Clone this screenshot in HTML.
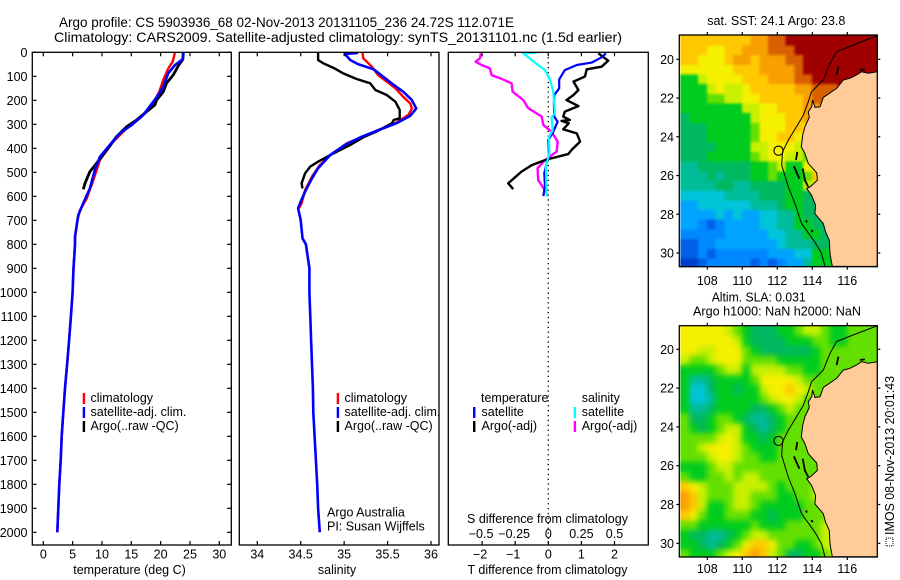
<!DOCTYPE html>
<html>
<head>
<meta charset="utf-8">
<title>Argo profile</title>
<style>
html,body{margin:0;padding:0;background:#fff;}
#chart{display:block;width:900px;height:580px;font-family:"Liberation Sans",sans-serif;font-size:12px;fill:#000;}
text{fill:#000;}
.frame{fill:none;stroke:#000;stroke-width:1.3;}
.tick{stroke:#000;stroke-width:1.2;}
</style>
</head>
<body>
<svg id="chart" xmlns="http://www.w3.org/2000/svg" width="900" height="580" viewBox="0 0 900 580">
  <defs>
    <clipPath id="clip-sst"><rect x="680.3" y="35" width="197" height="231.7"/></clipPath>
    <clipPath id="clip-sla"><rect x="680.3" y="325.7" width="197" height="231.3"/></clipPath>
    <filter id="soft-sst" filterUnits="userSpaceOnUse" x="660" y="0" width="240" height="290" color-interpolation-filters="sRGB">
      <feGaussianBlur in="SourceGraphic" stdDeviation="1.3" result="b"/>
      <feMerge><feMergeNode in="SourceGraphic"/><feMergeNode in="b"/></feMerge>
    </filter>
    <filter id="soft-sla" filterUnits="userSpaceOnUse" x="660" y="300" width="240" height="280" color-interpolation-filters="sRGB">
      <feGaussianBlur in="SourceGraphic" stdDeviation="3" result="b"/>
      <feMerge><feMergeNode in="SourceGraphic"/><feMergeNode in="b"/></feMerge>
    </filter>
  </defs>
  <rect x="0" y="0" width="900" height="580" fill="#fff"/>
  <text x="59" y="27" font-size="14" textLength="455" lengthAdjust="spacingAndGlyphs">Argo profile: CS 5903936_68 02-Nov-2013 20131105_236 24.72S 112.071E</text>
  <text x="54" y="42" font-size="14" textLength="568" lengthAdjust="spacingAndGlyphs">Climatology: CARS2009. Satellite-adjusted climatology: synTS_20131101.nc (1.5d earlier)</text>

  <g id="temp-panel"></g>
  <g id="sal-panel"></g>
  <g id="diff-panel"></g>
  <g id="sst-map"></g>
  <g id="sla-map"></g>

  <text x="129.5" y="574" font-size="12.5" text-anchor="middle">temperature (deg C)</text>
  <text x="337" y="574" font-size="12.5" text-anchor="middle">salinity</text>
  <text x="547.5" y="574" font-size="12.5" text-anchor="middle">T difference from climatology</text>
  <text x="547.5" y="523" font-size="12.5" text-anchor="middle">S difference from climatology</text>

  <g font-size="12.5">
    <rect x="82.7" y="393" width="2.4" height="11" fill="#ff0000"/>
    <rect x="82.7" y="407" width="2.4" height="11" fill="#0000ff"/>
    <rect x="82.7" y="421" width="2.4" height="11" fill="#000"/>
    <text x="90.5" y="402">climatology</text>
    <text x="90.5" y="416">satellite-adj. clim.</text>
    <text x="90.5" y="430">Argo(..raw -QC)</text>
  </g>
  <g font-size="12.5">
    <rect x="336.7" y="393" width="2.4" height="11" fill="#ff0000"/>
    <rect x="336.7" y="407" width="2.4" height="11" fill="#0000ff"/>
    <rect x="336.7" y="421" width="2.4" height="11" fill="#000"/>
    <text x="344.5" y="402">climatology</text>
    <text x="344.5" y="416">satellite-adj. clim.</text>
    <text x="344.5" y="430">Argo(..raw -QC)</text>
    <text x="327" y="516.7">Argo Australia</text>
    <text x="327" y="530.7">PI: Susan Wijffels</text>
  </g>
  <g font-size="12.5">
    <text x="481" y="402">temperature</text>
    <rect x="473" y="407" width="2.4" height="11" fill="#0000ff"/>
    <rect x="473" y="421" width="2.4" height="11" fill="#000"/>
    <text x="481.5" y="416">satellite</text>
    <text x="481.5" y="430">Argo(-adj)</text>
    <text x="581.7" y="402">salinity</text>
    <rect x="573.7" y="407" width="2.4" height="11" fill="#00ffff"/>
    <rect x="573.7" y="421" width="2.4" height="11" fill="#ff00ff"/>
    <text x="581.7" y="416">satellite</text>
    <text x="581.7" y="430">Argo(-adj)</text>
  </g>

  <text x="707.3" y="25" font-size="12.5" textLength="138" lengthAdjust="spacingAndGlyphs">sat. SST: 24.1 Argo: 23.8</text>
  <text x="711.7" y="301.7" font-size="12.5" textLength="94" lengthAdjust="spacingAndGlyphs">Altim. SLA: 0.031</text>
  <text x="693" y="315.7" font-size="12.5" textLength="168" lengthAdjust="spacingAndGlyphs">Argo h1000: NaN h2000: NaN</text>

  <g>
    <rect x="886" y="538" width="7" height="8" fill="none" stroke="#000" stroke-width="1" stroke-dasharray="1 1"/>
    <text transform="translate(894,535) rotate(-90)" font-size="12.5" textLength="159" lengthAdjust="spacingAndGlyphs">IMOS 08-Nov-2013 20:01:43</text>
  </g>
</svg>
<script>
/* ---- tick labels ---- */
const depthTicks = [0,100,200,300,400,500,600,700,800,900,1000,1100,1200,1300,1400,1500,1600,1700,1800,1900,2000];
const tempTicks = [0,5,10,15,20,25,30];
const salTicks = [34,34.5,35,35.5,36];
const salTickLabels = ['34','34.5','35','35.5','36'];
const tDiffTicks = [-2,-1,0,1,2];
const tDiffLabels = ['\u22122','\u22121','0','1','2'];
const sDiffTicks = [-0.5,-0.25,0,0.25,0.5];
const sDiffLabels = ['\u22120.5','\u22120.25','0','0.25','0.5'];
const lonTicks = [108,110,112,114,116];
const latTicks = [20,22,24,26,28,30];

/* ---- temperature profiles (deg C) with depths (m) ---- */
const deepDepths = [800,900,1000,1100,1200,1300,1400,1500,1600,1700,1800,1900,2000];
const climTempDepth = [0,39,67,115,164,198,233,275,317,372,448,533,609,658,700,776];
const climTemp = [22.44,22.05,21.3,20.45,19.77,19.03,18.18,16.48,14.2,11.93,9.66,8.52,7.39,6.25,5.8,5.4];
const satTempDepth = [0,29,53,87,143,178,206,261,303,337,386,435,490,567,629,678,768];
const satTemp = [23.86,23.75,22.44,21.3,20.45,19.6,18.75,17.05,15.06,13.07,11.36,9.66,8.8,7.95,6.8,5.97,5.4];
const deepTemp = [5.4,5.15,5.0,4.7,4.4,4.05,3.7,3.41,3.13,2.96,2.73,2.56,2.39];
const argoTempDepth = [0,29,57,94,129,164,199,219,247,282,310,351,407,462,497,546,571];
const argoTemp = [23.86,23.8,23.0,22.16,21.0,20.45,19.3,19.03,17.6,15.9,14.2,12.5,10.8,9.09,7.95,7.1,6.82];

/* ---- salinity profiles ---- */
const climSalDepth = [0,25,60,95,122,150,185,213,234,261,293,327,352,379,428,470,518,574,629,650];
const climSal = [35.21,35.22,35.32,35.39,35.49,35.59,35.68,35.76,35.78,35.74,35.6,35.37,35.22,35.03,34.84,34.72,34.63,34.55,34.51,34.48];
const satSalDepth = [3,7,32,49,71,108,136,164,199,234,265,296,328,352,386,428,483,525,581,622,650,699,775];
const satSal = [35.16,35.01,35.07,35.16,35.34,35.47,35.57,35.68,35.78,35.83,35.76,35.6,35.37,35.2,35.01,34.84,34.7,34.63,34.55,34.5,34.47,34.5,34.52];
const deepSal = [34.56,34.6,34.6,34.61,34.62,34.63,34.64,34.645,34.66,34.675,34.69,34.7,34.72];
const argoSalDepth = [0,32,46,67,88,111,129,157,178,206,240,275,282,296,331,354,386,428,456,476,504,546,567];
const argoSal = [34.7,34.7,34.76,34.89,34.99,35.14,35.3,35.36,35.49,35.59,35.64,35.64,35.57,35.55,35.37,35.22,35.07,34.84,34.7,34.61,34.55,34.51,34.52];

/* ---- differences from climatology ---- */
const satTDiffDepth = [4,21,43,53,74,113,150,178,213,268,289,331,365,428,463,504,560,599];
const satTDiff = [1.74,1.61,1.31,0.86,0.5,0.33,0.33,0.18,0.17,0.18,0.28,0.15,0,0.02,-0.05,-0.12,-0.1,-0.15];
const argoTDiffDepth = [4,35,60,71,101,122,157,178,199,224,247,268,282,286,296,321,338,372,407,424,438,449,470,497,546,570];
const argoTDiff = [1.51,1.81,1.61,1.16,1.11,0.76,0.91,0.76,0.55,0.91,0.5,0.45,0.65,0.4,0.62,0.45,0.86,0.96,0.7,0.6,0.2,-0.1,-0.5,-0.81,-1.21,-1.06];
const argoSDiffDepth = [4,25,39,53,67,95,108,129,164,199,233,268,303,331,372,414,449,483,532,571];
const argoSDiff = [-0.509,-0.516,-0.549,-0.504,-0.441,-0.428,-0.365,-0.277,-0.27,-0.189,-0.151,-0.05,-0.038,0.025,0.071,0.063,-0.025,-0.081,-0.076,-0.03];
const satSDiffDepth = [2,4,43,74,115,164,254,271,324,352,421,477,601];
const satSDiff = [-0.09,-0.189,-0.101,-0.025,0.013,0.038,0.05,0.025,0.033,0.005,0.008,-0.018,-0.013];

/* ---- map fields: colour-scale level per half-degree cell, north to south ---- */
const sstField = [
[11,11,11,11,11,11,11,11,12,12,13,13,14,14,14,14,14,14,14,14,14,14,14],
[11,11,11,10,10,11,11,12,12,12,13,13,13,14,14,14,14,14,14,14,14,14,14],
[11,11,10,10,10,11,12,12,11,12,12,12,13,13,14,14,14,14,14,14,14,14,14],
[10,10,10,10,10,10,11,11,11,12,12,12,12,13,14,14,14,14,14,14,14,14,14],
[7,7,9,10,10,10,10,11,11,11,12,12,12,13,13,14,14,14,14,14,14,14,14],
[7,7,7,9,10,9,9,10,11,11,11,11,11,12,12,13,13,13,14,14,14,14,14],
[7,7,7,8,8,9,9,10,10,11,11,11,11,11,12,13,13,13,14],
[7,7,7,7,7,7,7,9,9,10,10,11,11,11,12,12,13],
[6,7,7,7,7,7,7,7,9,10,10,10,11,11,12,12,12],
[6,6,6,7,7,7,7,7,8,10,10,10,11,11,10,10,10],
[6,6,6,7,7,7,7,7,8,10,10,11,11,10,10,10,10],
[6,6,6,6,7,7,7,7,9,9,10,10,10,9,8,10,10],
[6,6,6,7,7,7,7,7,8,9,10,10,9,9,8,10,10],
[5,5,6,6,6,6,6,6,7,7,8,9,7,7,10,10,11,11],
[5,5,5,6,5,6,6,6,7,7,8,7,7,7,8,11,11,11],
[5,5,5,5,6,6,5,5,6,6,6,6,7,7,9,9,11,11],
[4,4,4,4,4,5,5,5,5,6,6,6,7,7,6,6,6,6],
[3,3,4,4,4,4,4,4,5,5,5,6,7,7,6,6,6,6],
[3,3,3,3,4,3,4,3,3,4,4,5,5,7,6,6,6,6],
[3,3,2,1,2,3,3,3,3,4,4,5,5,7,7,6,6,6],
[2,2,2,2,2,3,3,3,3,3,4,4,5,5,7,7,6,6],
[1,1,2,2,3,3,3,3,3,3,3,4,5,5,5,6,6,6],
[1,1,2,1,2,2,2,2,2,2,3,3,3,4,4,7,7,7],
[0,0,1,2,2,2,2,2,1,2,1,2,3,3,5,7,7,7]
];
const slaField = [
[10,10,10,10,10,9,8,7,6,6,6,7,7,8,9,9,8,7,7,8,8,8,8],
[10,10,10,10,10,10,9,7,6,6,6,6,7,7,7,8,8,7,7,8,8,8,8],
[10,10,9,9,10,10,10,8,7,6,6,6,6,6,6,7,8,8,8,8,8,8,8],
[9,8,8,9,10,10,10,8,8,8,8,7,7,7,7,7,8,8,8,8,8,8,8],
[7,7,7,7,8,9,9,7,9,9,9,9,8,8,7,7,8,8,8,8,8,8,8],
[7,5,5,6,7,7,7,7,8,10,10,10,10,9,8,8,8,8,8,8],
[7,4,4,6,7,7,6,7,7,9,10,10,11,10,9,8,8,8],
[7,4,4,5,7,7,7,7,7,8,9,10,10,9,8,8,8],
[7,5,5,6,7,7,7,7,6,6,7,8,9,8,8,8,8],
[8,6,6,7,8,8,7,6,5,5,6,7,8,8,8,8,8],
[8,7,6,7,8,9,9,7,6,5,6,7,8,8,8,8],
[8,8,8,8,9,10,9,7,7,6,7,8,8,8,8,9],
[8,8,9,10,10,10,9,8,7,7,7,8,8,8,8,9,9],
[8,8,8,9,10,10,9,8,8,7,7,8,8,8,8,8,8,8],
[7,7,7,8,9,9,8,8,8,8,8,8,8,8,8,8,7,8],
[8,7,7,8,8,9,8,9,9,8,8,8,8,8,8,8,8,8],
[11,10,9,8,8,8,9,9,9,9,8,7,8,8,8,9,9,9],
[12,11,9,8,8,8,9,9,8,8,8,7,7,8,8,9,9,9],
[12,11,9,7,7,8,9,9,8,7,7,7,7,7,8,8,9,9],
[11,10,8,7,7,8,8,8,7,7,6,7,7,7,8,8,8,9],
[8,8,7,7,7,7,7,7,8,7,7,7,8,8,8,8,9,9],
[7,6,6,5,5,6,7,8,9,9,8,8,8,8,8,8,9,9],
[7,7,6,5,6,7,8,10,11,11,10,8,8,7,7,8,9,9],
[8,7,7,7,8,9,10,11,12,11,9,8,6,6,7,7,8,9]
];

/* ---- geography (degrees) ---- */
const coastLon = [117.71,117.2,116.82,116.53,116.15,115.77,115.39,114.63,114.44,114.15,114.02,113.96,113.77,113.83,113.58,113.45,113.37,113.58,113.77,114.25,114.29,113.87,113.68,113.96,114.19,114.15,114.63,114.76,114.97,115.01,115.14];
const coastLat = [20.64,20.72,20.64,20.81,20.98,21.07,21.5,21.97,22.45,22.48,22.1,22.45,22.71,23.0,23.48,23.91,24.52,24.86,25.38,25.86,26.24,26.59,26.67,27.02,27.53,27.97,28.48,28.91,29.34,30.03,30.69];
const shelfLon = [117.71,117.1,116.34,115.39,115.01,114.63,113.96,113.77,113.49,113.1,112.63,112.3,112.25,112.63,113.01,113.39,114.15,114.53,114.72];
const shelfLat = [18.79,19.0,19.26,19.6,20.21,21.07,21.67,22.19,22.88,23.48,24.17,24.78,25.47,26.59,27.45,28.48,29.43,30.03,30.69];
const islandLon = [[112.95,113.26],[113.45,113.58,113.77],[113.14,113.07],[115.49,115.39],[116.72,117.0],[113.64,113.7],[114.02,113.95]];
const islandLat = [[25.52,26.16],[25.64,26.24,26.59],[24.78,25.2],[20.38,20.81],[20.55,20.52],[28.31,28.42],[28.91,28.8]];
const profileLon = 112.071;
const profileLat = 24.72;

/* ---- axis functions ---- */
const NS = 'http://www.w3.org/2000/svg';
function yDepth(d){ return 52.3 + d * 0.24; }
function xTemp(t){ return 43.3 + t * 5.867; }
function xSal(s){ return 257.3 + (s - 34) * 86.85; }
function xTDiff(t){ return 548.3 + t * 33.1; }
function xSDiff(s){ return 548.3 + s * 132.4; }
function xLon(lon){ return 707.3 + (lon - 108) * 17.5; }
function ySst(lat){ return 59.3 + (lat - 20) * 19.37; }
function ySla(lat){ return 349.3 + (lat - 20) * 19.4; }

function levelColor(v){
  const scale = ['#0040c8','#0060e8','#0088ff','#00a4ff','#00c4d8','#00bc98','#00b860','#00cc20','#64e000','#c8f000','#f4f000','#ffc800','#f8a000','#d86000','#a00000'];
  return scale[Math.max(0, Math.min(scale.length - 1, Math.round(v)))];
}
function mk(parent, tag, attrs){
  const el = document.createElementNS(NS, tag);
  Object.keys(attrs).forEach(function(k){ el.setAttribute(k, attrs[k]); });
  parent.appendChild(el);
  return el;
}
function profile(parent, name, xs, depths, xFn, color, width){
  const pts = xs.map(function(v, i){ return xFn(v).toFixed(1) + ',' + yDepth(depths[i]).toFixed(1); }).join(' ');
  const el = mk(parent, 'polyline', {points: pts, fill: 'none', stroke: color, 'stroke-width': width, 'stroke-linejoin': 'round', 'stroke-linecap': 'butt'});
  
  
  return el;
}
function frame(parent, name, x, y, w, h){
  const el = mk(parent, 'rect', {x: x, y: y, width: w, height: h, 'class': 'frame'});
  
  
}
function tickLine(parent, x1, y1, x2, y2){
  const el = mk(parent, 'line', {x1: x1, y1: y1, x2: x2, y2: y2, 'class': 'tick'});
  
  
}
function label(parent, name, x, y, str, anchor){
  const el = mk(parent, 'text', {x: x, y: y, 'text-anchor': anchor, 'font-size': '12.5'});
  el.textContent = str;
  
  
}

const T0 = 52.3, B0 = 545;

/* temperature panel */
const tp = document.getElementById('temp-panel');
profile(tp, 'climatology-temperature-line', climTemp.concat(deepTemp), climTempDepth.concat(deepDepths), xTemp, '#ff0000', 2.4);
profile(tp, 'argo-temperature-line', argoTemp, argoTempDepth, xTemp, '#000', 2.8);
profile(tp, 'satellite-temperature-line', satTemp.concat(deepTemp), satTempDepth.concat(deepDepths), xTemp, '#0000ff', 2.6);
frame(tp, 'temperature-plot-frame', 32.3, T0, 199, B0 - T0);
depthTicks.forEach(function(d){
  tickLine(tp, 32.3, yDepth(d), 36.5, yDepth(d));
  tickLine(tp, 227, yDepth(d), 231.3, yDepth(d));
  label(tp, 'depth-tick-label', 27.5, yDepth(d) + 4.5, String(d), 'end');
});
tempTicks.forEach(function(t){
  tickLine(tp, xTemp(t), T0, xTemp(t), T0 + 4);
  tickLine(tp, xTemp(t), B0 - 4, xTemp(t), B0);
  label(tp, 'temperature-tick-label', xTemp(t), 558.5, String(t), 'middle');
});

/* salinity panel */
const sp = document.getElementById('sal-panel');
profile(sp, 'climatology-salinity-line', climSal, climSalDepth, xSal, '#ff0000', 2.4);
profile(sp, 'argo-salinity-line', argoSal, argoSalDepth, xSal, '#000', 2.4);
profile(sp, 'satellite-salinity-line', satSal.concat(deepSal), satSalDepth.concat(deepDepths), xSal, '#0000ff', 2.6);
frame(sp, 'salinity-plot-frame', 239.3, T0, 199.7, B0 - T0);
salTicks.forEach(function(s, i){
  tickLine(sp, xSal(s), T0, xSal(s), T0 + 4);
  tickLine(sp, xSal(s), B0 - 4, xSal(s), B0);
  label(sp, 'salinity-tick-label', xSal(s), 558.5, salTickLabels[i], 'middle');
});

/* difference panel */
const dp = document.getElementById('diff-panel');
const zero = mk(dp, 'line', {x1: xTDiff(0), y1: T0, x2: xTDiff(0), y2: B0, stroke: '#000', 'stroke-width': 1.3, 'stroke-dasharray': '1.3 3.6'});


profile(dp, 'argo-salinity-difference-line', argoSDiff, argoSDiffDepth, xSDiff, '#ff00ff', 2.4);
profile(dp, 'argo-temperature-difference-line', argoTDiff, argoTDiffDepth, xTDiff, '#000', 2.4);
profile(dp, 'satellite-temperature-difference-line', satTDiff, satTDiffDepth, xTDiff, '#0000ff', 2.2);
profile(dp, 'satellite-salinity-difference-line', satSDiff, satSDiffDepth, xSDiff, '#00ffff', 2.2);
frame(dp, 'difference-plot-frame', 448.3, T0, 200, B0 - T0);
tDiffTicks.forEach(function(t, i){
  tickLine(dp, xTDiff(t), T0, xTDiff(t), T0 + 4);
  tickLine(dp, xTDiff(t), B0 - 4, xTDiff(t), B0);
  label(dp, 't-difference-tick-label', xTDiff(t) - (t < 0 ? 2 : 0), 558.5, tDiffLabels[i], 'middle');
});
sDiffTicks.forEach(function(s, i){
  label(dp, 's-difference-tick-label', xSDiff(s) - (s < 0 ? 1 : 0), 538, sDiffLabels[i], 'middle');
});

/* maps */
function drawMap(gid, field, yFn, clip, top, bottom, tag, labelY){
  const g = document.getElementById(gid);
  const inner = mk(g, 'g', {'clip-path': 'url(#' + clip + ')'});
  const cells = mk(inner, 'g', {filter: 'url(#soft-' + tag + ')'});
  const lon0 = 106.48, lat0 = (top + 0.7 - yFn(20)) / yFn.scale + 20, step = 0.5;
  field.forEach(function(row, r){
    row.forEach(function(v, c){
      const x0 = xLon(lon0 + c * step), x1 = xLon(lon0 + (c + 1) * step);
      const y0 = yFn(lat0 + r * step), y1 = yFn(lat0 + (r + 1) * step);
      const cell = mk(cells, 'rect', {x: x0.toFixed(1), y: y0.toFixed(1), width: (x1 - x0 + 0.6).toFixed(1), height: (y1 - y0 + 0.6).toFixed(1), fill: levelColor(v), 'shape-rendering': 'crispEdges'});
      
      
    });
  });
  const landPts = coastLon.map(function(lo, i){ return xLon(lo).toFixed(1) + ',' + yFn(coastLat[i]).toFixed(1); });
  landPts.push(xLon(118.2).toFixed(1) + ',' + yFn(30.69).toFixed(1));
  landPts.push(xLon(118.2).toFixed(1) + ',' + yFn(20.64).toFixed(1));
  const land = mk(inner, 'polygon', {points: landPts.join(' '), fill: '#ffcc99', stroke: '#000', 'stroke-width': 1});
  
  
  const shelf = mk(inner, 'polyline', {points: shelfLon.map(function(lo, i){ return xLon(lo).toFixed(1) + ',' + yFn(shelfLat[i]).toFixed(1); }).join(' '), fill: 'none', stroke: '#000', 'stroke-width': 1});
  
  
  islandLon.forEach(function(lons, k){
    const isl = mk(inner, 'polyline', {points: lons.map(function(lo, i){ return xLon(lo).toFixed(1) + ',' + yFn(islandLat[k][i]).toFixed(1); }).join(' '), fill: 'none', stroke: '#000', 'stroke-width': 1.8});
    
    
  });
  const circ = mk(inner, 'circle', {cx: xLon(profileLon).toFixed(1), cy: yFn(profileLat).toFixed(1), r: 4.6, fill: 'none', stroke: '#000', 'stroke-width': 1.1});
  
  
  frame(g, tag + '-map-frame', 679.3, top, 198, bottom - top);
  lonTicks.forEach(function(lo){
    tickLine(g, xLon(lo), top - 3, xLon(lo), top);
    tickLine(g, xLon(lo), bottom, xLon(lo), bottom + 3);
    label(g, 'longitude-tick-label', xLon(lo), labelY, String(lo), 'middle');
  });
  latTicks.forEach(function(la){
    tickLine(g, 676.3, yFn(la), 679.3, yFn(la));
    tickLine(g, 877.3, yFn(la), 880.3, yFn(la));
    label(g, 'latitude-tick-label', 674, yFn(la) + 4.5, String(la), 'end');
  });
}
ySst.scale = 19.37;
ySla.scale = 19.4;
drawMap('sst-map', sstField, ySst, 'clip-sst', 35, 266.7, 'sst', 285);
drawMap('sla-map', slaField, ySla, 'clip-sla', 325.7, 557, 'sla', 573);
</script>
</body>
</html>
